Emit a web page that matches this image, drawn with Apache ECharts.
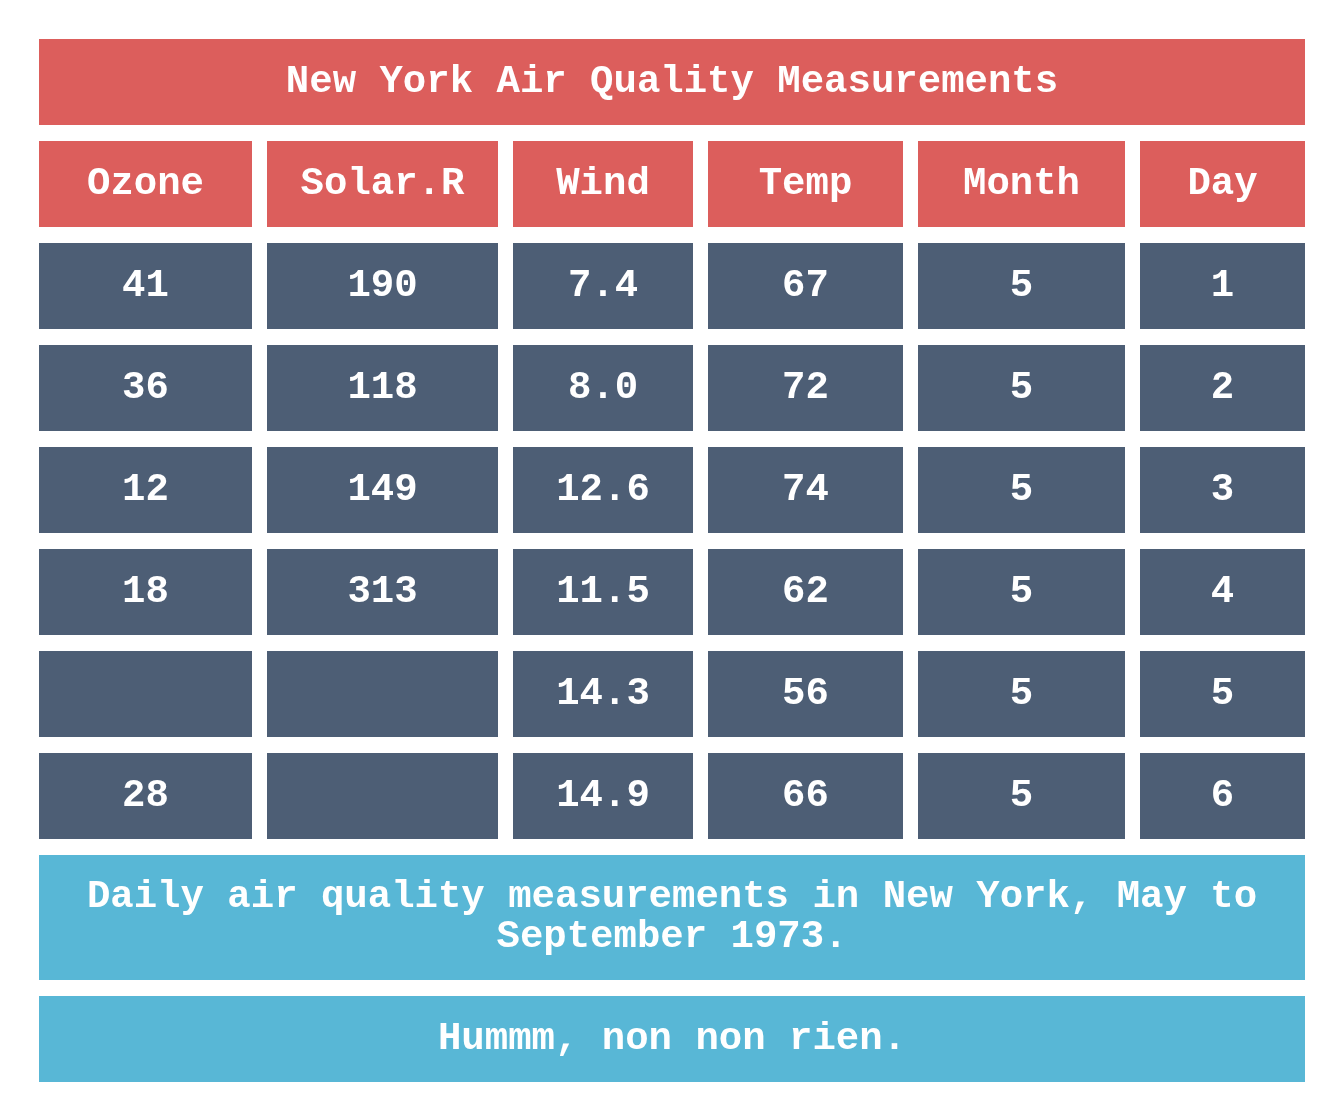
<!DOCTYPE html>
<html>
<head>
<meta charset="utf-8">
<script src="https://cdn.jsdelivr.net/npm/echarts@6/dist/echarts.min.js"></script>
<style>html,body{margin:0;padding:0;background:#fff}#chart{width:1341px;height:1119px}</style>
</head>
<body>
<div id="chart"></div>
<script>
var title = 'New York Air Quality Measurements';
var headers = ['Ozone', 'Solar.R', 'Wind', 'Temp', 'Month', 'Day'];
var ozone = ['41', '36', '12', '18', '', '28'];
var solarR = ['190', '118', '149', '313', '', ''];
var wind = ['7.4', '8.0', '12.6', '11.5', '14.3', '14.9'];
var temp = ['67', '72', '74', '62', '56', '66'];
var month = ['5', '5', '5', '5', '5', '5'];
var day = ['1', '2', '3', '4', '5', '6'];
var caption = 'Daily air quality measurements in New York, May to\nSeptember 1973.';
var footer = 'Hummm, non non rien.';

// layout
var colX = [[39, 252], [267, 498], [513, 693], [708, 903], [918, 1125], [1140, 1305]];
var RED = '#dc5e5c', DARK = '#4d5e75', BLUE = '#58b7d6';
var FONT = 'bold 39px "Liberation Mono", "DejaVu Sans Mono", monospace';

function cell(x0, x1, y0, y1, color, text) {
  return {
    type: 'rect',
    shape: { x: x0, y: y0, width: x1 - x0, height: y1 - y0 },
    style: { fill: color },
    textContent: { style: { text: text, fill: '#fff', font: FONT, align: 'center', lineHeight: 40 } },
    textConfig: { position: 'inside' }
  };
}

var els = [];
els.push(cell(39, 1305, 39, 125, RED, title));
headers.forEach(function (h, i) { els.push(cell(colX[i][0], colX[i][1], 141, 227, RED, h)); });
var cols = [ozone, solarR, wind, temp, month, day];
for (var r = 0; r < day.length; r++) {
  var y0 = 243 + r * 102;
  cols.forEach(function (c, i) { els.push(cell(colX[i][0], colX[i][1], y0, y0 + 86, DARK, c[r])); });
}
els.push(cell(39, 1305, 855, 980, BLUE, caption));
els.push(cell(39, 1305, 996, 1082, BLUE, footer));

var chart = echarts.init(document.getElementById('chart'));
chart.setOption({ animation: false, graphic: { elements: els } });
</script>
</body>
</html>
